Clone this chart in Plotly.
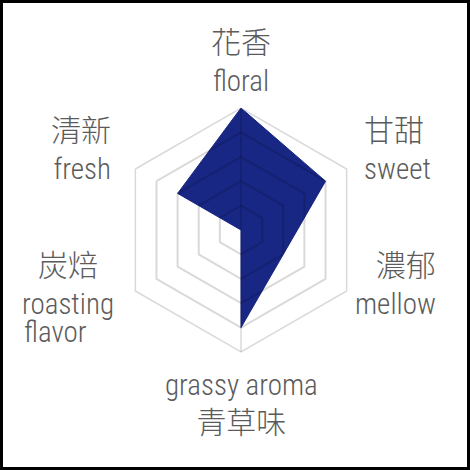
"""
Radar chart of a tea flavour profile (hexagonal grid, bilingual labels)
"""

import plotly.graph_objects as go

# Dados
categorias = ['花香 floral', '甘甜 sweet', '濃郁 mellow', '青草味 grassy aroma', '炭焙 roasting flavor', '清新 fresh']
valores = [5, 4, 2, 4, 0, 3]
niveis = [1, 2, 3, 4]
r_max = 5

# Textos dos rótulos (chinês / inglês)
rotulos_zh = ['花香', '甘甜', '濃郁', '青草味', '炭焙', '清新']
rotulos_en = ['floral', 'sweet', 'mellow', 'grassy aroma', 'roasting', 'fresh']
rotulo_extra = 'flavor'

W = H = 470
fonte_txt = 'Roboto Condensed, Noto Sans CJK TC, sans-serif'
cor_txt = '#5b5b5b'
cor_grade = 'rgba(0,0,0,0.15)'

fig = go.Figure()

# Polígono preenchido
fig.add_trace(go.Scatterpolar(
    r=valores + valores[:1],
    theta=categorias + categorias[:1],
    mode='lines',
    fill='toself',
    fillcolor='#182684',
    line=dict(color='#182684', width=1),
    hoverinfo='skip',
    subplot='polar',
))

# Eixo vertical visível na grade sobreposta
fig.add_trace(go.Scatterpolar(
    r=[r_max, r_max],
    theta=[categorias[0], categorias[3]],
    mode='lines',
    line=dict(color=cor_grade, width=1.5),
    hoverinfo='skip',
    subplot='polar2',
))

dominio = dict(x=[(241 - 122) / W, (241 + 122) / W],
               y=[1 - (230 + 122) / H, 1 - (230 - 122) / H])

eixo_ang = dict(type='category', categoryarray=categorias, rotation=90,
                direction='clockwise', showticklabels=False, ticks='')

fig.update_layout(
    width=W, height=H,
    margin=dict(l=0, r=0, t=0, b=0),
    paper_bgcolor='white',
    showlegend=False,
    polar=dict(
        domain=dominio, gridshape='linear', bgcolor='white',
        radialaxis=dict(range=[0, r_max], visible=False),
        angularaxis=dict(eixo_ang, showgrid=False, showline=False),
    ),
    # grade por cima do preenchimento
    polar2=dict(
        domain=dominio, gridshape='linear', bgcolor='rgba(0,0,0,0)',
        radialaxis=dict(range=[0, r_max], tickvals=niveis, showticklabels=False,
                        ticks='', showline=False, gridcolor=cor_grade, gridwidth=1.5),
        angularaxis=dict(eixo_ang, showgrid=False, showline=True,
                         linecolor=cor_grade, linewidth=1.5),
    ),
)

def px(x, y):
    return x / W, 1 - y / H

def zh(t):
    return '<span style="font-size:30px">' + t + '</span>'

textos = [
    zh(rotulos_zh[0]) + '<br>' + rotulos_en[0],
    zh(rotulos_zh[1]) + '<br>' + rotulos_en[1],
    zh(rotulos_zh[2]) + '<br>' + rotulos_en[2],
    rotulos_en[3] + '<br>' + zh(rotulos_zh[3]),
    zh(rotulos_zh[4]) + '<br>' + rotulos_en[4],
    zh(rotulos_zh[5]) + '<br>' + rotulos_en[5],
    rotulo_extra,
]
posicoes = [
    (241, 61, 'center', 'center'),
    (362, 149, 'left', 'left'),
    (438, 284, 'right', 'right'),
    (241, 404, 'center', 'center'),
    (68, 284, 'center', 'center'),
    (113, 149, 'right', 'right'),
    (22, 332, 'left', 'left'),
]
for txt, (x, y, xa, al) in zip(textos, posicoes):
    ax, ay = px(x, y)
    fig.add_annotation(x=ax, y=ay, xref='paper', yref='paper', text=txt,
                       showarrow=False, xanchor=xa, yanchor='middle', align=al,
                       font=dict(family=fonte_txt, size=29, color=cor_txt, weight=300))

# Moldura preta
fig.add_shape(type='rect', xref='paper', yref='paper', x0=0, y0=0, x1=1, y1=1,
              line=dict(color='black', width=6))

fig.write_html("out.html", config={'displayModeBar': False},
               post_script="document.body.style.margin='0';")
